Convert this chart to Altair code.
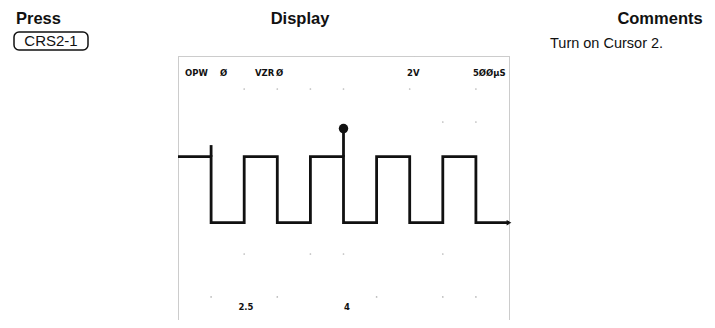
import altair as alt
import pandas as pd

# ---- Data (time in µs at 500 µs/div, volts at 2 V/div) ----
step_times = [0, 500, 1000, 1500, 2000, 2500, 3000, 3500, 4000, 4500, 5000]
step_volts = [1.9, -2.1, 1.9, -2.1, 1.9, -2.1, 1.9, -2.1, 1.9, -2.1, -2.1]

spike_time = 500
spike_top = 2.6
cursor_time = 2500
cursor_top = 3.6
high_level = 1.9
end_time = 5000
end_level = -2.1

top_labels = ["OPW", "Ø", "VZR", "Ø", "2V"]
top_label_times = [106, 634, 1163, 1480, 3460]
top_right_label = "5ØØμS"
top_right_time = 4950
bottom_labels = ["2.5", "4"]
bottom_label_times = [1027, 2553]

ghost_t = [1000, 1500, 2000, 2500, 3500, 4500, 4000, 4500, 1000, 2000, 2500, 4000, 500, 1500, 3000, 4000, 4500]
ghost_v = [6, 6, 6, 6, 6, 6, 4, 4, -4, -4, -4, -4, -6.6, -6.6, -6.6, -6.6, -6.6]

xs = alt.Scale(domain=[0, 5000], nice=False, zero=False)
ys = alt.Scale(domain=[-8, 8], nice=False, zero=False)
X = lambda f: alt.X(f, scale=xs, axis=None)
Y = lambda f: alt.Y(f, scale=ys, axis=None)

trace_df = pd.DataFrame({"t": step_times, "v": step_volts})
trace = alt.Chart(trace_df).mark_line(
    interpolate="step-after", color="#111", strokeWidth=2.8, strokeJoin="miter"
).encode(x=X("t:Q"), y=Y("v:Q"))

rules_df = pd.DataFrame({"t": [spike_time, cursor_time], "v": [high_level, high_level], "v2": [spike_top, cursor_top]})
rules = alt.Chart(rules_df).mark_rule(color="#111", strokeWidth=2.8).encode(
    x=X("t:Q"), y=Y("v:Q"), y2="v2:Q")

dot = alt.Chart(pd.DataFrame({"t": [cursor_time], "v": [cursor_top]})).mark_point(
    filled=True, color="#111", size=90, opacity=1).encode(x=X("t:Q"), y=Y("v:Q"))

end = alt.Chart(pd.DataFrame({"t": [end_time], "v": [end_level]})).mark_point(
    filled=True, color="#111", size=30, shape="triangle-right", opacity=1).encode(x=X("t:Q"), y=Y("v:Q"))

ghost = alt.Chart(pd.DataFrame({"t": ghost_t, "v": ghost_v})).mark_point(
    filled=True, color="#bbb", size=3, opacity=1).encode(x=X("t:Q"), y=Y("v:Q"))

scope_font = "DejaVu Sans"
tl = alt.Chart(pd.DataFrame({"t": top_label_times, "s": top_labels})).mark_text(
    align="left", baseline="middle", font=scope_font, fontWeight="bold", fontSize=8.5, color="#111"
).encode(x=X("t:Q"), y=alt.datum(7, scale=ys), text="s:N")
tr = alt.Chart(pd.DataFrame({"t": [top_right_time], "s": [top_right_label]})).mark_text(
    align="right", baseline="middle", font=scope_font, fontWeight="bold", fontSize=8.5, color="#111"
).encode(x=X("t:Q"), y=alt.datum(7, scale=ys), text="s:N")
bl = alt.Chart(pd.DataFrame({"t": bottom_label_times, "s": bottom_labels})).mark_text(
    align="center", baseline="middle", font=scope_font, fontWeight="bold", fontSize=8.5, color="#111"
).encode(x=X("t:Q"), y=alt.datum(-7.2, scale=ys), text="s:N")

one = pd.DataFrame({"a": [0]})
hdr_font = "Liberation Sans"
press = alt.Chart(one).mark_text(text="Press", align="left", baseline="middle", font=hdr_font,
    fontWeight="bold", fontSize=16.5, color="#111").encode(x=alt.value(-162), y=alt.value(-37))
display = alt.Chart(one).mark_text(text="Display", align="center", baseline="middle", font=hdr_font,
    fontWeight="bold", fontSize=16.5, color="#111").encode(x=alt.value(122), y=alt.value(-37))
comments = alt.Chart(one).mark_text(text="Comments", align="center", baseline="middle", font=hdr_font,
    fontWeight="bold", fontSize=16.5, color="#111").encode(x=alt.value(482), y=alt.value(-37))
button = alt.Chart(one).mark_rect(fill="white", stroke="#111", strokeWidth=1.5, cornerRadius=5).encode(
    x=alt.value(-164), x2=alt.value(-90), y=alt.value(-24), y2=alt.value(-6))
button_txt = alt.Chart(one).mark_text(text="CRS2-1", align="center", baseline="middle", font=hdr_font,
    fontSize=15, color="#111").encode(x=alt.value(-127), y=alt.value(-15))
comment = alt.Chart(one).mark_text(text="Turn on Cursor 2.", align="left", baseline="middle", font=hdr_font,
    fontSize=14.5, color="#111").encode(x=alt.value(372), y=alt.value(-12))

chart = alt.layer(
    ghost, trace, rules, dot, end, tl, tr, bl,
    press, display, comments, button, button_txt, comment
).properties(
    width=331, height=264,
    autosize=alt.AutoSizeParams(type="none"),
    padding={"left": 170, "top": 48, "right": 198, "bottom": 0},
).configure_view(
    stroke="#999", strokeDash=[1, 1], strokeWidth=1
)

chart.save("out.html", embed_options={"renderer": "svg", "actions": False})
